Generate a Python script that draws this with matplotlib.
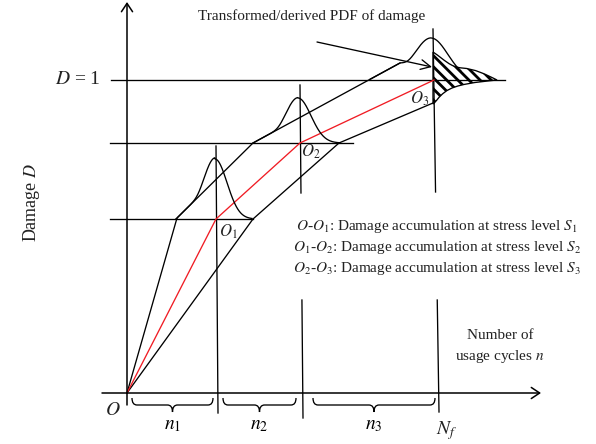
import numpy as np
import matplotlib
matplotlib.use("Agg")
import matplotlib.pyplot as plt
from matplotlib.path import Path
from matplotlib.patches import PathPatch

plt.rcParams['font.family'] = ['Liberation Serif', 'DejaVu Serif']
plt.rcParams['mathtext.fontset'] = 'stix'
plt.rcParams['hatch.linewidth'] = 2.0

# schematic drawn in canvas units (596 x 444, y grows downward)
W, H = 596, 444

# damage path O -> O1 -> O2 -> O3 (red)
path_n = [127, 216, 300, 434]
path_D = [393, 219, 143, 80]
# upper / lower bounds of the damage band
upper_n = [127, 177, 253, 400]
upper_D = [393, 218, 143, 63]
lower_n = [127, 253, 339, 433]
lower_D = [393, 219, 143, 103]
# horizontal levels at O1, O2 and D = 1
level_D = [219, 143, 80]
level_from = [110, 110, 111]
level_to = [253, 353, 505]
# vertical stage boundaries (top x, top y, bottom x, bottom y), gap where legend sits
stage_top_n = [216, 300, 433]
stage_top_D = [146, 85, 29]
stage_bot_n = [218, 303, 439]
stage_bot_D = [413, 418, 412]
stage_gap = [None, (193, 300), (192, 300)]
# damage PDFs: centre, spread, height, baseline, extent
pdf_mu = [215, 298, 431]
pdf_sigma = [12, 13, 17]
pdf_amp = [60, 45, 42]
pdf_base = [219, 143, 80]
pdf_from = [176, 253, 370]
pdf_to = [252, 340, 461]
# brace extents under the n axis
brace_from = [132, 223, 313]
brace_to = [213, 296, 435]
brace_labels = ['$n_1$', '$n_2$', '$n_3$']
legend_lines = [r'$O$-$O_1$: Damage accumulation at stress level $S_1$',
                r'$O_1$-$O_2$: Damage accumulation at stress level $S_2$',
                r'$O_2$-$O_3$: Damage accumulation at stress level $S_3$']

LW = 0.95
fig = plt.figure(figsize=(W / 100, H / 100), dpi=100)
ax = fig.add_axes([0, 0, 1, 1])
ax.set_xlim(0, W); ax.set_ylim(H, 0)
ax.axis('off')

# axes with open arrow heads
arrow = dict(arrowstyle='->,head_length=0.6,head_width=0.4', lw=1.1, color='k',
             shrinkA=0, shrinkB=0)
ax.annotate('', xy=(127, 2), xytext=(127, 405), arrowprops=arrow)
ax.annotate('', xy=(541, 393), xytext=(102, 393), arrowprops=arrow)

for y, a, b in zip(level_D, level_from, level_to):
    ax.plot([a, b], [y, y], color='k', lw=LW)

for tx, ty, bx, by, gap in zip(stage_top_n, stage_top_D, stage_bot_n, stage_bot_D, stage_gap):
    xs = lambda y: tx + (bx - tx) * (y - ty) / (by - ty)
    if gap is None:
        ax.plot([tx, bx], [ty, by], color='k', lw=LW)
    else:
        ax.plot([tx, xs(gap[0])], [ty, gap[0]], color='k', lw=LW)
        ax.plot([xs(gap[1]), bx], [gap[1], by], color='k', lw=LW)

ax.plot(upper_n, upper_D, color='k', lw=LW)
ax.plot(lower_n, lower_D, color='k', lw=LW)
ax.plot(path_n, path_D, color='#f01c24', lw=LW)

# bell-shaped PDFs riding on the upper bound on their left side
for mu, s, amp, base, a, b in zip(pdf_mu, pdf_sigma, pdf_amp, pdf_base, pdf_from, pdf_to):
    x = np.linspace(a, b, 300)
    g = amp * np.exp(-0.5 * ((x - mu) / s) ** 2)
    line_h = np.clip(base - np.interp(x, upper_n, upper_D), 0, None)
    line_h[x > mu] = 0
    h = (g ** 5 + line_h ** 5) ** 0.2
    ax.plot(x, base - h, color='k', lw=LW)

# transformed PDF of damage (hatched)
verts = [(433, 52), (445, 60), (450, 67), (462, 68),
         (475, 69), (485, 74), (497, 80),
         (478, 82), (455, 84), (445, 92),
         (438, 97), (437, 101), (433, 104), (433, 52)]
codes = [Path.MOVETO] + [Path.CURVE4] * 12 + [Path.CLOSEPOLY]
ax.add_patch(PathPatch(Path(verts, codes), facecolor='white', edgecolor='k',
                       hatch='\\\\\\', lw=LW))

ax.annotate('', xy=(432, 67), xytext=(317, 42),
            arrowprops=dict(arrowstyle='->,head_length=0.7,head_width=0.35',
                            lw=LW, color='k', shrinkA=0, shrinkB=0))

# braces under the n axis
y_end, y_bar, y_tip, r = 398, 405, 412, 5
for a, b, lab in zip(brace_from, brace_to, brace_labels):
    m = (a + b) / 2
    v = [(a, y_end), (a, y_bar), (a + r, y_bar), (m - r, y_bar), (m, y_bar), (m, y_tip),
         (m, y_bar), (m + r, y_bar), (b - r, y_bar), (b, y_bar), (b, y_end)]
    c = [Path.MOVETO, Path.CURVE3, Path.CURVE3, Path.LINETO, Path.CURVE3, Path.CURVE3,
         Path.CURVE3, Path.CURVE3, Path.LINETO, Path.CURVE3, Path.CURVE3]
    ax.add_patch(PathPatch(Path(v, c), facecolor='none', edgecolor='k', lw=LW))
    ax.text(m, 425, lab, fontsize=14, ha='center', va='center')

txt = '#222222'
ax.text(312, 16, 'Transformed/derived PDF of damage', fontsize=11, ha='center', va='center', color=txt)
ax.text(78, 80, '$D$ = 1', fontsize=14, ha='center', va='center', color=txt)
ax.text(32, 202, 'Damage $D$', fontsize=13, rotation=90, ha='center', va='center', color=txt)
ax.text(113, 410, '$O$', fontsize=14, ha='center', va='center', color=txt)
ax.text(447, 431, '$N_f$', fontsize=14, ha='center', va='center', color=txt)
ax.text(500, 335, 'Number of', fontsize=11, ha='center', va='center', color=txt)
ax.text(500, 356, 'usage cycles $n$', fontsize=11, ha='center', va='center', color=txt)
ax.text(228, 232, '$O_1$', fontsize=12, ha='center', va='center', color=txt)
ax.text(311, 152, '$O_2$', fontsize=12, ha='center', va='center', color=txt)
ax.text(420, 99, '$O_3$', fontsize=12, ha='center', va='center', color=txt)
for i, line in enumerate(legend_lines):
    ax.text(437, 226 + 21 * i, line, fontsize=11, ha='center', va='center', color=txt)

fig.savefig('out.png', dpi=100)
